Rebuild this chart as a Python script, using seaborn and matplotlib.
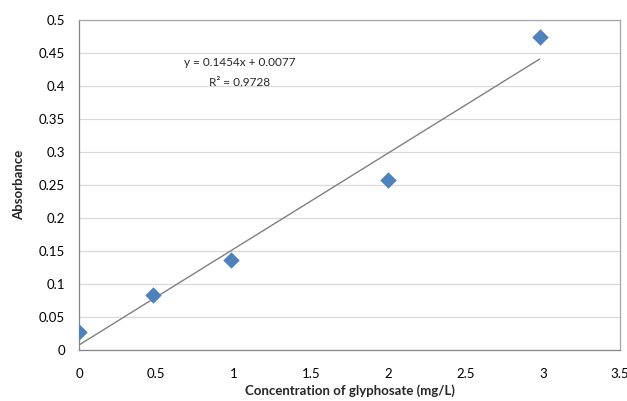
import numpy as np
import pandas as pd
import matplotlib
matplotlib.use('Agg')
import matplotlib.pyplot as plt
import seaborn as sns

# Calibration data: glyphosate concentration vs absorbance
conc = [0.0, 0.48, 0.98, 2.0, 2.98]
absorbance = [0.027, 0.084, 0.136, 0.257, 0.475]
slope = 0.1454
intercept = 0.0077
r2 = 0.9728

sns.set_style('white')
plt.rcParams['font.family'] = ['Lato', 'DejaVu Sans']

df = pd.DataFrame({'conc': conc, 'abs': absorbance})
fit_x = np.array([min(conc), max(conc)])
fit = pd.DataFrame({'conc': fit_x, 'abs': slope * fit_x + intercept})

fig = plt.figure(figsize=(6.27, 4.01), dpi=100)
ax = fig.add_axes([0.126, 0.127, 0.863, 0.823])

sns.lineplot(data=fit, x='conc', y='abs', ax=ax, color='#808080', linewidth=1.0, zorder=2)
sns.scatterplot(data=df, x='conc', y='abs', ax=ax, marker='D', s=70,
                color='#4F81BD', edgecolor='#4F81BD', linewidth=0, zorder=3)

ax.set_xlim(0, 3.5)
ax.set_ylim(0, 0.5)
ax.set_xticks(np.arange(0, 3.51, 0.5))
ax.set_xticklabels(['0', '0.5', '1', '1.5', '2', '2.5', '3', '3.5'])
ax.set_yticks(np.arange(0, 0.51, 0.05))
ax.set_yticklabels(['0', '0.05', '0.1', '0.15', '0.2', '0.25', '0.3', '0.35', '0.4', '0.45', '0.5'])
ax.yaxis.grid(True, color='#D9D9D9', linewidth=0.9)
ax.set_axisbelow(True)

for side in ['top', 'right']:
    ax.spines[side].set_color('#A6A6A6')
    ax.spines[side].set_linewidth(0.9)
for side in ['left', 'bottom']:
    ax.spines[side].set_color('#868686')
    ax.spines[side].set_linewidth(0.9)

ax.tick_params(axis='both', which='major', labelsize=9.5, colors='#868686',
               labelcolor='black', length=4, width=0.9, direction='out', pad=6)
ax.tick_params(axis='x', pad=9)

ax.set_xlabel('Concentration of glyphosate (mg/L)', fontsize=9.5, fontweight='bold', labelpad=3)
ax.set_ylabel('Absorbance', fontsize=9.5, fontweight='bold', labelpad=10)

ax.text(1.04, 0.435, f'y = {slope}x + {intercept}', ha='center', va='center', fontsize=8.5)
ax.text(1.04, 0.405, f'R\u00b2 = {r2}', ha='center', va='center', fontsize=8.5)

fig.savefig('out.png', dpi=100)
plt.close(fig)
